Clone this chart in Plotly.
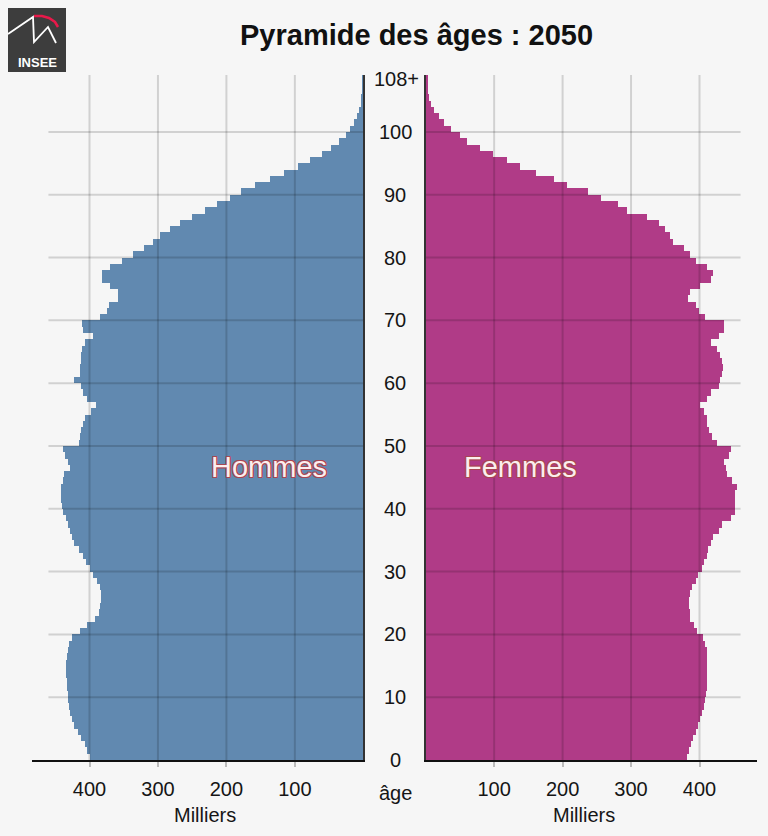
import plotly.graph_objects as go

# ---------------- data ----------------
ages = list(range(0, 109))

hommes = [
    400, 403, 407, 412, 417, 422, 426, 428, 430, 431,   # 0-9
    432, 433, 433, 434, 434, 434, 433, 432, 430, 426,   # 10-19
    414, 403, 392, 386, 384, 383, 383, 384, 389, 395,   # 20-29
    400, 405, 410, 416, 422, 426, 428, 432, 435, 438,   # 30-39
    440, 441, 441, 442, 438, 437, 429, 432, 436, 438,   # 40-49
    416, 414, 412, 410, 406, 398, 390, 404, 409, 413,   # 50-59
    423, 414, 414, 413, 413, 411, 406, 395, 410, 411,   # 60-69
    385, 374, 372, 358, 358, 370, 382, 382, 370, 353,   # 70-79
    336, 320, 307, 297, 283, 268, 250, 232, 214, 195,   # 80-89
    178, 158, 136, 116, 96, 78, 61, 47, 35, 26,         # 90-99
    19, 13, 9, 6, 4, 3, 2, 1, 1,                        # 100-108
]

femmes = [
    381, 384, 387, 390, 394, 397, 401, 403, 406, 407,   # 0-9
    409, 411, 411, 411, 411, 411, 411, 410, 408, 405,   # 10-19
    396, 391, 386, 385, 384, 384, 386, 389, 394, 398,   # 20-29
    403, 406, 410, 412, 416, 420, 428, 433, 445, 452,   # 30-39
    452, 451, 452, 454, 447, 440, 438, 436, 443, 445,   # 40-49
    425, 418, 413, 411, 410, 406, 400, 411, 416, 428,   # 50-59
    430, 433, 434, 433, 430, 425, 416, 428, 435, 435,   # 60-69
    408, 399, 394, 383, 385, 400, 416, 420, 411, 395,   # 70-79
    386, 377, 361, 357, 349, 340, 323, 294, 280, 255,   # 80-89
    236, 206, 187, 161, 138, 118, 98, 79, 60, 49,       # 90-99
    37, 26, 19, 12, 7, 4, 3, 2, 1.5,                    # 100-108
]

x_tick_vals = [100, 200, 300, 400]
x_tick_text = ["100", "200", "300", "400"]
age_tick_vals = [0, 10, 20, 30, 40, 50, 60, 70, 80, 90, 100]
age_tick_text = [str(v) for v in age_tick_vals]
top_age_value = 108.5
top_age_text = "108+"

title_text = "Pyramide des âges : 2050"
label_hommes = "Hommes"
label_femmes = "Femmes"
unit_text = "Milliers"
age_axis_text = "âge"

# ---------------- style ----------------
W, H = 768, 836
BG = "#f6f6f6"
BLUE = "#6189b0"
MAGENTA = "#b03b87"
GRID = "rgba(0,0,0,0.15)"
FONT = "Liberation Sans, Arial, Helvetica, sans-serif"
XMAX = 484
GRID_XMAX = 460
YMAX = 109.07


def px(x):
    return x / W


def py(y):
    return 1 - y / H


fig = go.Figure()
fig.add_trace(go.Bar(
    y=ages, x=hommes, orientation="h", width=1, offset=0,
    marker=dict(color=BLUE, line=dict(width=0)),
    xaxis="x", yaxis="y", name=label_hommes, showlegend=False, hoverinfo="skip",
))
fig.add_trace(go.Bar(
    y=ages, x=femmes, orientation="h", width=1, offset=0,
    marker=dict(color=MAGENTA, line=dict(width=0)),
    xaxis="x2", yaxis="y2", name=label_femmes, showlegend=False, hoverinfo="skip",
))

xcommon = dict(
    showgrid=False, zeroline=False, showline=True, linecolor="#111111", linewidth=2,
    tickvals=x_tick_vals, ticktext=x_tick_text, ticks="outside", ticklen=5,
    tickcolor="#bbbbbb", tickwidth=1.5, ticklabelstandoff=5,
    tickfont=dict(family=FONT, size=20, color="#151515"), fixedrange=True,
)
ycommon = dict(
    domain=[py(760), py(75)], range=[0, YMAX], showgrid=False, zeroline=False,
    showline=True, linecolor="#333333", linewidth=2, showticklabels=False,
    ticks="", fixedrange=True,
)

shapes = []
# gridlines drawn over the bars (semi-transparent)
for g in age_tick_vals[1:]:
    for xr, yr in (("x", "y"), ("x2", "y2")):
        shapes.append(dict(type="line", xref=xr, yref=yr, x0=0, x1=GRID_XMAX, y0=g, y1=g,
                           line=dict(color=GRID, width=2), layer="above"))
for v in x_tick_vals:
    for xr, yr in (("x", "y"), ("x2", "y2")):
        shapes.append(dict(type="line", xref=xr, yref=yr, x0=v, x1=v, y0=0, y1=YMAX,
                           line=dict(color=GRID, width=2), layer="above"))

# INSEE logo (decoration)
shapes.append(dict(type="rect", xref="paper", yref="paper",
                   x0=px(8), x1=px(66), y0=py(72), y1=py(8),
                   fillcolor="#3d3d3d", line=dict(width=0), layer="above"))


def path_from(points):
    return "M " + " L ".join(f"{px(a):.5f},{py(b):.5f}" for a, b in points)


shapes.append(dict(type="path", xref="paper", yref="paper",
                   path=path_from([(8, 34), (33, 17), (34, 42), (48, 27), (56, 43)]),
                   line=dict(color="white", width=1.8), layer="above"))
shapes.append(dict(type="path", xref="paper", yref="paper",
                   path=path_from([(34, 16), (42, 16), (49, 18), (55, 22), (58, 27)]),
                   line=dict(color="#e8194a", width=2.5), layer="above"))

annotations = []
for v, t in zip(age_tick_vals, age_tick_text):
    annotations.append(dict(xref="paper", yref="y", x=px(395), y=v, text=t, showarrow=False,
                            xanchor="center", yanchor="middle",
                            font=dict(family=FONT, size=20, color="#151515")))
annotations.append(dict(xref="paper", yref="y", x=px(396), y=top_age_value, text=top_age_text,
                        showarrow=False, xanchor="center", yanchor="middle",
                        font=dict(family=FONT, size=20, color="#151515")))
annotations.append(dict(xref="paper", yref="paper", x=px(416.5), y=py(35), text=title_text,
                        showarrow=False, xanchor="center", yanchor="middle",
                        font=dict(family=FONT, size=29, color="#111111", weight="bold")))
for xx, t in ((205, unit_text), (584, unit_text)):
    annotations.append(dict(xref="paper", yref="paper", x=px(xx), y=py(815), text=t,
                            showarrow=False, xanchor="center", yanchor="middle",
                            font=dict(family=FONT, size=20, color="#151515")))
annotations.append(dict(xref="paper", yref="paper", x=px(395), y=py(793), text=age_axis_text,
                        showarrow=False, xanchor="center", yanchor="middle",
                        font=dict(family=FONT, size=20, color="#151515")))
oc = "#a84652"
outline = (f"1px 0px 0px {oc}, -1px 0px 0px {oc}, 0px 1px 0px {oc}, 0px -1px 0px {oc}, "
           f"1px 1px 0px {oc}, -1px -1px 0px {oc}, 1px -1px 0px {oc}, -1px 1px 0px {oc}")
for xx, t in ((269, label_hommes), (520, label_femmes)):
    annotations.append(dict(xref="paper", yref="paper", x=px(xx), y=py(467), text=t,
                            showarrow=False, xanchor="center", yanchor="middle",
                            font=dict(family=FONT, size=29, color="#fbeeee", shadow=outline)))
annotations.append(dict(xref="paper", yref="paper", x=px(37), y=py(62), text="<b>INSEE</b>",
                        showarrow=False, xanchor="center", yanchor="middle",
                        font=dict(family=FONT, size=13, color="white")))

fig.update_layout(
    width=W, height=H, margin=dict(l=0, r=0, t=0, b=0),
    paper_bgcolor=BG, plot_bgcolor=BG, bargap=0, barmode="overlay",
    xaxis=dict(domain=[px(32), px(363.3)], range=[XMAX, 0], anchor="y", **xcommon),
    yaxis=dict(anchor="x", side="right", **ycommon),
    xaxis2=dict(domain=[px(425.7), px(757)], range=[0, XMAX], anchor="y2", **xcommon),
    yaxis2=dict(anchor="x2", side="left", **ycommon),
    shapes=shapes, annotations=annotations,
)

fig.write_html(
    "out.html",
    config={"displayModeBar": False},
    post_script="document.body.style.margin='0';document.body.style.overflow='hidden';",
)
